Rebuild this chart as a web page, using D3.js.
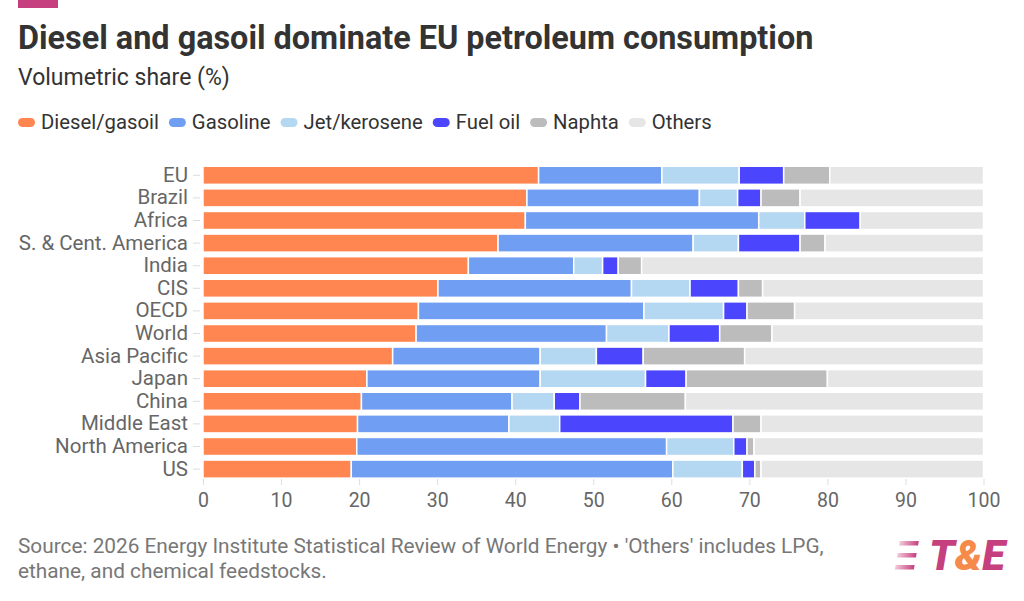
<!DOCTYPE html>
<html>
<head>
<meta charset="utf-8">
<script src="https://cdn.jsdelivr.net/npm/d3@7"></script>
<style>
  body { margin: 0; background: #fff; }
  svg { font-family: Roboto, "Noto Sans", sans-serif; }
</style>
</head>
<body>
<script>
// regions, top to bottom
var regions = ["EU", "Brazil", "Africa", "S. & Cent. America", "India", "CIS", "OECD",
    "World", "Asia Pacific", "Japan", "China", "Middle East", "North America", "US"];

var products = ["Diesel/gasoil", "Gasoline", "Jet/kerosene", "Fuel oil", "Naphta", "Others"];

// volumetric shares (%) per product, in region order
var diesel   = [43.0, 41.5, 41.3, 37.8, 34.0, 30.1, 27.6, 27.3, 24.3, 21.0, 20.3, 19.8, 19.7, 19.0];
var gasoline = [15.8, 22.1, 29.9, 25.0, 13.5, 24.8, 28.9, 24.4, 18.9, 22.2, 19.3, 19.4, 39.7, 41.2];
var jet      = [ 9.9,  4.9,  5.9,  5.8,  3.7,  7.5, 10.2,  8.0,  7.2, 13.5,  5.4,  6.5,  8.6,  8.9];
var fueloil  = [ 5.7,  3.0,  7.1,  7.9,  2.0,  6.2,  3.0,  6.5,  6.0,  5.2,  3.3, 22.2,  1.7,  1.6];
var naphta   = [ 5.9,  5.0,  0.0,  3.2,  3.0,  3.1,  6.1,  6.7, 13.0, 18.1, 13.5,  3.6,  0.9,  0.8];
var others   = [19.7, 23.5, 15.8, 20.3, 43.8, 28.3, 24.2, 27.1, 30.6, 20.0, 38.2, 28.5, 29.4, 28.5];

var xTicks = [0, 10, 20, 30, 40, 50, 60, 70, 80, 90, 100];

var colors = ["#ff8650", "#709ef2", "#b4d7f2", "#4b45fd", "#bcbcbc", "#e6e6e6"];

var W = 1024, H = 601;

var svg = d3.select("body").append("svg")
    .attr("width", W)
    .attr("height", H);

// brand strip top-left
svg.append("rect")
    .attr("x", 18).attr("y", 0)
    .attr("width", 40).attr("height", 8)
    .attr("fill", "#c63f7e");

svg.append("text")
    .attr("x", 18).attr("y", 49)
    .attr("font-size", 32.4)
    .attr("font-weight", 700)
    .attr("fill", "#333")
    .text("Diesel and gasoil dominate EU petroleum consumption");

svg.append("text")
    .attr("x", 18).attr("y", 85)
    .attr("font-size", 23)
    .attr("fill", "#333")
    .text("Volumetric share (%)");

// legend
var legend = svg.append("g").attr("transform", "translate(18,129)");
var lx = 0;
products.forEach(function(p, i) {
    var g = legend.append("g").attr("transform", "translate(" + lx + ",0)");
    g.append("rect")
        .attr("x", 0).attr("y", -11)
        .attr("width", 17).attr("height", 9)
        .attr("rx", 4.5)
        .attr("fill", colors[i]);
    var t = g.append("text")
        .attr("x", 23).attr("y", 0)
        .attr("font-size", 20.3)
        .attr("fill", "#333")
        .text(p);
    lx += 23 + t.node().getComputedTextLength() + 10;
});

// scales
var x = d3.scaleLinear().domain([0, 100]).range([203, 983.5]);
var y = d3.scaleBand().domain(regions).range([164, 480.4])
    .paddingInner(0.2).paddingOuter(0.1);

// stack rows
var series = [diesel, gasoline, jet, fueloil, naphta, others];
var rows = regions.map(function(r, i) {
    var o = { region: r };
    products.forEach(function(p, k) { o[p] = series[k][i]; });
    return o;
});
var stacked = d3.stack().keys(products)(rows);

svg.append("g").selectAll("g")
    .data(stacked)
    .enter().append("g")
    .attr("fill", function(d, i) { return colors[i]; })
    .selectAll("rect")
    .data(function(d) { return d; })
    .enter().append("rect")
    .filter(function(d) { return d[1] - d[0] > 0; })
    .attr("x", function(d) { return x(d[0]); })
    .attr("y", function(d) { return y(d.data.region); })
    .attr("width", function(d) { return Math.max(0, x(d[1]) - x(d[0])); })
    .attr("height", y.bandwidth())
    .attr("stroke", "#fff")
    .attr("stroke-width", 1.5);

// y axis
var yAxis = svg.append("g")
    .attr("transform", "translate(200,0)")
    .call(d3.axisLeft(y).tickSize(7).tickPadding(5));
yAxis.select(".domain").remove();
yAxis.selectAll("line").attr("stroke", "#ddd");
yAxis.selectAll("text")
    .attr("font-size", 20.5)
    .attr("font-family", "Roboto, sans-serif")
    .attr("fill", "#666");

// x axis
var xAxis = svg.append("g")
    .attr("transform", "translate(0,479)")
    .call(d3.axisBottom(x).tickValues(xTicks).tickSize(6).tickPadding(8));
xAxis.select(".domain").remove();
xAxis.selectAll("line").attr("stroke", "#ddd");
xAxis.selectAll("text")
    .attr("font-size", 19.5)
    .attr("font-family", "Roboto, sans-serif")
    .attr("fill", "#666");

// footer
var foot = svg.append("text")
    .attr("x", 18).attr("y", 553)
    .attr("font-size", 20.8)
    .attr("fill", "#777");
foot.append("tspan").attr("x", 18).attr("dy", 0)
    .text("Source: 2026 Energy Institute Statistical Review of World Energy \u2022 'Others' includes LPG,");
foot.append("tspan").attr("x", 18).attr("dy", 24.5)
    .text("ethane, and chemical feedstocks.");

// T&E logo
var grad = svg.append("defs").append("linearGradient")
    .attr("id", "stripe").attr("x1", "0%").attr("x2", "100%");
grad.append("stop").attr("offset", "0%").attr("stop-color", "#f4c9da");
grad.append("stop").attr("offset", "100%").attr("stop-color", "#c63f7e");

var logo = svg.append("g").attr("transform", "translate(897,540)");
[1, 13, 25].forEach(function(yy) {
    logo.append("rect")
        .attr("x", 3).attr("y", yy)
        .attr("width", 19).attr("height", 4.5)
        .attr("transform", "skewX(-10)")
        .attr("fill", "url(#stripe)");
});
var lt = logo.append("text")
    .attr("x", 32).attr("y", 30)
    .attr("font-size", 42)
    .attr("font-weight", 900)
    .attr("font-style", "italic");
lt.append("tspan").attr("fill", "#c63f7e").text("T");
lt.append("tspan").attr("fill", "#f58a4b").text("&");
lt.append("tspan").attr("fill", "#c63f7e").text("E");
</script>
</body>
</html>
